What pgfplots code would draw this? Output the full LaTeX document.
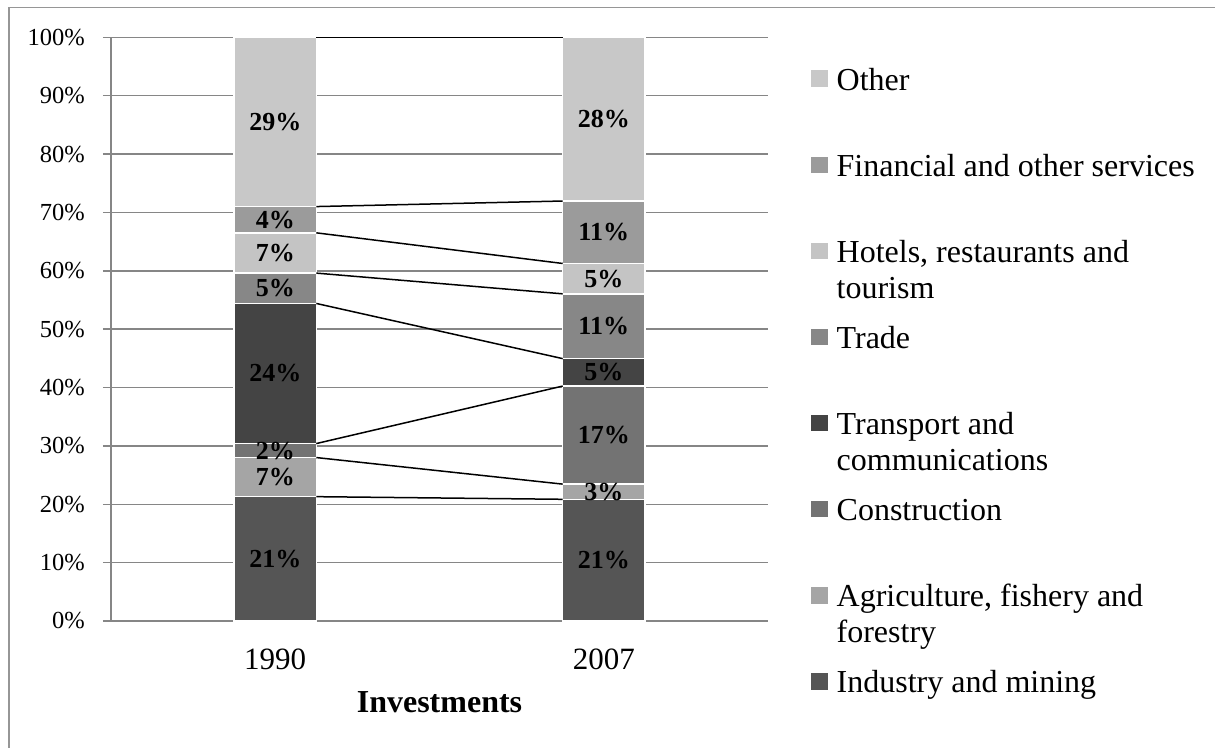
\documentclass[border=0pt]{standalone}
\usepackage{pgfplots}
\pgfplotsset{compat=1.18}
\usepackage{fontspec}
\setmainfont{Liberation Serif}
\definecolor{cInd}{RGB}{85,85,85}
\definecolor{cAgr}{RGB}{165,165,165}
\definecolor{cCon}{RGB}{115,115,115}
\definecolor{cTra}{RGB}{68,68,68}
\definecolor{cTrd}{RGB}{135,135,135}
\definecolor{cHot}{RGB}{196,196,196}
\definecolor{cFin}{RGB}{155,155,155}
\definecolor{cOth}{RGB}{200,200,200}
\definecolor{gridc}{RGB}{134,134,134}
\definecolor{framec}{RGB}{150,150,150}
\newcommand{\legsq}[1]{\fill[#1] (0pt,4pt) rectangle (15pt,19pt);}
\begin{document}
\begin{tikzpicture}
\useasboundingbox (-111pt,-126pt) rectangle (1104pt,621pt);
\draw[line width=1.5pt, color=framec] (-102pt,-130pt) -- (-102pt,613.5pt) -- (1110pt,613.5pt);
\begin{axis}[
  scale only axis, width=657pt, height=583.7pt,
  xmin=-0.5, xmax=1.5, ymin=0, ymax=100,
  ybar stacked, bar width=0.25,
  axis x line*=bottom, axis y line*=left,
  axis line style={gridc, line width=1.5pt, -},
  xtick={0,1}, xticklabels={1990,2007},
  xtick style={draw=none},
  ytick={0,10,...,100},
  yticklabels={0\%,10\%,20\%,30\%,40\%,50\%,60\%,70\%,80\%,90\%,100\%},
  ymajorgrids, grid style={gridc, line width=1.5pt},
  ytick style={gridc, line width=1.5pt},
  tick align=outside, major tick length=8pt,
  yticklabel style={font=\fontsize{24.5}{29}\selectfont, anchor=east, inner sep=0pt, xshift=-18pt},
  xticklabel style={font=\fontsize{31}{36}\selectfont, anchor=base, inner sep=0pt, yshift=-40pt},
  xlabel={Investments},
  xlabel style={font=\fontsize{32}{36}\selectfont\bfseries, at={(axis description cs:0.5,-0.1576)}, anchor=base},
  reverse legend,
  legend style={at={(1.0654,0.9525)}, anchor=north west, draw=none, fill=none, inner sep=0pt,
    font=\fontsize{32}{36}\selectfont, column sep=9pt, row sep=0pt,
    nodes={inner sep=0pt, text height=25pt, text depth=61.1pt},
    cells={anchor=base west}},
]
\addplot[fill=cInd, draw=white, line width=1.5pt, legend image code/.code={\legsq{cInd}}] coordinates {(0,21.3) (1,20.85)};
\addlegendentry{Industry and mining}
\addplot[fill=cAgr, draw=white, line width=1.5pt, legend image code/.code={\legsq{cAgr}}] coordinates {(0,6.7) (1,2.6)};
\addlegendentry{\parbox[t]{380pt}{Agriculture, fishery and\\forestry}}
\addplot[fill=cCon, draw=white, line width=1.5pt, legend image code/.code={\legsq{cCon}}] coordinates {(0,2.4) (1,16.8)};
\addlegendentry{Construction}
\addplot[fill=cTra, draw=white, line width=1.5pt, legend image code/.code={\legsq{cTra}}] coordinates {(0,24.0) (1,4.7)};
\addlegendentry{\parbox[t]{380pt}{Transport and\\communications}}
\addplot[fill=cTrd, draw=white, line width=1.5pt, legend image code/.code={\legsq{cTrd}}] coordinates {(0,5.2) (1,11.1)};
\addlegendentry{Trade}
\addplot[fill=cHot, draw=white, line width=1.5pt, legend image code/.code={\legsq{cHot}}] coordinates {(0,6.9) (1,5.2)};
\addlegendentry{\parbox[t]{380pt}{Hotels, restaurants and\\tourism}}
\addplot[fill=cFin, draw=white, line width=1.5pt, legend image code/.code={\legsq{cFin}}] coordinates {(0,4.5) (1,10.7)};
\addlegendentry{Financial and other services}
\addplot[fill=cOth, draw=white, line width=1.5pt, legend image code/.code={\legsq{cOth}}] coordinates {(0,29.0) (1,28.05)};
\addlegendentry{Other}
\end{axis}
\begin{axis}[
  scale only axis, width=657pt, height=583.7pt,
  xmin=-0.5, xmax=1.5, ymin=0, ymax=100,
  hide axis, clip=false,
]
\addplot[black, line width=1.5pt] coordinates {(0.125,21.3) (0.875,20.85)};
\addplot[black, line width=1.5pt] coordinates {(0.125,28.0) (0.875,23.45)};
\addplot[black, line width=1.5pt] coordinates {(0.125,30.4) (0.875,40.25)};
\addplot[black, line width=1.5pt] coordinates {(0.125,54.4) (0.875,44.95)};
\addplot[black, line width=1.5pt] coordinates {(0.125,59.6) (0.875,56.05)};
\addplot[black, line width=1.5pt] coordinates {(0.125,66.5) (0.875,61.25)};
\addplot[black, line width=1.5pt] coordinates {(0.125,71.0) (0.875,71.95)};
\addplot[black, line width=1.5pt] coordinates {(0.125,100) (0.875,100)};
\addplot[only marks, mark=*, mark size=0pt, mark options={draw=none, fill=none},
  nodes near coords, point meta=explicit symbolic,
  every node near coord/.append style={anchor=center, inner sep=0pt, font=\fontsize{26}{30}\selectfont\bfseries}]
  coordinates {
  (0,10.65) [21\%] (0,24.65) [7\%] (0,29.2) [2\%] (0,42.4) [24\%]
  (0,57.0) [5\%] (0,63.05) [7\%] (0,68.75) [4\%] (0,85.5) [29\%]
  (1,10.43) [21\%] (1,22.15) [3\%] (1,31.85) [17\%] (1,42.6) [5\%]
  (1,50.5) [11\%] (1,58.65) [5\%] (1,66.6) [11\%] (1,85.98) [28\%]
  };
\end{axis}
\end{tikzpicture}
\end{document}
